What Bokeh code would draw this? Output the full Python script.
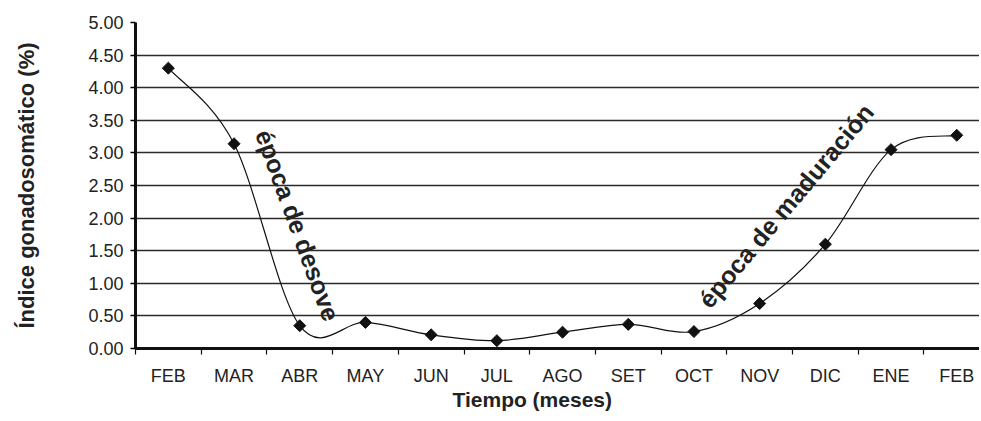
from bokeh.plotting import figure
from bokeh.models import FixedTicker, Label, ColumnDataSource, NumeralTickFormatter, Title
from bokeh.embed import file_html
from bokeh.resources import INLINE
import numpy as np

months = ["FEB", "MAR", "ABR", "MAY", "JUN", "JUL", "AGO", "SET", "OCT", "NOV", "DIC", "ENE", "FEB"]
igs = [4.30, 3.14, 0.35, 0.40, 0.21, 0.12, 0.25, 0.37, 0.26, 0.69, 1.60, 3.05, 3.27]
y_ticks = [0.0, 0.5, 1.0, 1.5, 2.0, 2.5, 3.0, 3.5, 4.0, 4.5, 5.0]
x_title = "Tiempo (meses)"
y_title = "Índice gonadosomático (%)"
notes = ["época de desove", "época de maduración"]
note_x = [1.97, 9.40]
note_y = [1.89, 2.19]
note_angle_deg = [-70, 50]

FONT = "Liberation Sans"
TXT = "#222222"

xs = np.arange(len(months), dtype=float)
ys = np.array(igs, dtype=float)

# smooth (Catmull-Rom style) Bezier segments between consecutive points
n = len(xs)
x0, y0, x1, y1, cx0, cy0, cx1, cy1 = [], [], [], [], [], [], [], []
for i in range(n - 1):
    p0 = np.array([xs[max(i - 1, 0)], ys[max(i - 1, 0)]])
    p1 = np.array([xs[i], ys[i]])
    p2 = np.array([xs[i + 1], ys[i + 1]])
    p3 = np.array([xs[min(i + 2, n - 1)], ys[min(i + 2, n - 1)]])
    c1 = p1 + (p2 - p0) / 6.0
    c2 = p2 - (p3 - p1) / 6.0
    x0.append(p1[0]); y0.append(p1[1]); x1.append(p2[0]); y1.append(p2[1])
    cx0.append(c1[0]); cy0.append(c1[1]); cx1.append(c2[0]); cy1.append(c2[1])

W, H = 979, 419
frame_left, frame_top, frame_bottom = 135, 22, 348
step = 65.7
span = (W - frame_left) / step

p = figure(width=W, height=H, output_backend="svg", toolbar_location=None,
           x_range=(-0.5, -0.5 + span), y_range=(0, 5),
           min_border_left=frame_left, min_border_top=frame_top,
           min_border_bottom=H - frame_bottom, min_border_right=0)
p.outline_line_color = None
p.background_fill_color = "white"
p.border_fill_color = "white"

# grid
p.xgrid.grid_line_color = None
p.ygrid.ticker = FixedTicker(ticks=y_ticks)
p.ygrid.grid_line_color = "#2a2a2a"
p.ygrid.grid_line_width = 1.5

# y axis
ya = p.yaxis[0]
ya.ticker = FixedTicker(ticks=y_ticks)
ya.formatter = NumeralTickFormatter(format="0.00")
ya.axis_line_width = 3
ya.axis_line_color = "#111111"
ya.major_tick_out = 5
ya.major_tick_in = 0
ya.major_tick_line_width = 1.5
ya.minor_tick_line_color = None
ya.major_label_text_font = FONT
ya.major_label_text_font_size = "18px"
ya.major_label_text_color = TXT
ya.major_label_standoff = 7
ya.axis_label = y_title
ya.axis_label_text_font = FONT
ya.axis_label_text_font_style = "bold"
ya.axis_label_text_font_size = "22px"
ya.axis_label_text_color = TXT
ya.axis_label_standoff = 46

# x axis
xa = p.xaxis[0]
xa.ticker = FixedTicker(ticks=list(range(len(months))),
                        minor_ticks=[i - 0.5 for i in range(len(months) + 1)])
xa.major_label_overrides = {i: m for i, m in enumerate(months)}
xa.axis_line_width = 3
xa.axis_line_color = "#111111"
xa.major_tick_out = 0
xa.major_tick_in = 0
xa.minor_tick_out = 6
xa.minor_tick_in = 0
xa.minor_tick_line_width = 1.2
xa.minor_tick_line_color = "#111111"
xa.major_label_text_font = FONT
xa.major_label_text_font_size = "18px"
xa.major_label_text_color = TXT
xa.major_label_standoff = 11

# smooth line
p.bezier(x0=x0, y0=y0, x1=x1, y1=y1, cx0=cx0, cy0=cy0, cx1=cx1, cy1=cy1,
         line_color="#111111", line_width=1.2)

# diamond markers
src = ColumnDataSource(dict(x=xs, y=ys))
p.scatter("x", "y", source=src, marker="square", angle=np.pi / 4, size=8.5,
          fill_color="#111111", line_color="#111111")

# annotations
for t, lx, ly, ang in zip(notes, note_x, note_y, note_angle_deg):
    p.add_layout(Label(x=lx, y=ly, text=t, angle=ang, angle_units="deg",
                       text_align="center", text_baseline="middle",
                       text_font=FONT, text_font_style="bold",
                       text_font_size="25px", text_color=TXT))

# x-axis title (positioned as in the original, not centred on the frame)
p.add_layout(Title(text=x_title, align="left", offset=317, standoff=-6,
                   text_font=FONT, text_font_style="bold",
                   text_font_size="21px", text_color=TXT), "below")

open("out.html", "w").write(file_html(p, INLINE))
